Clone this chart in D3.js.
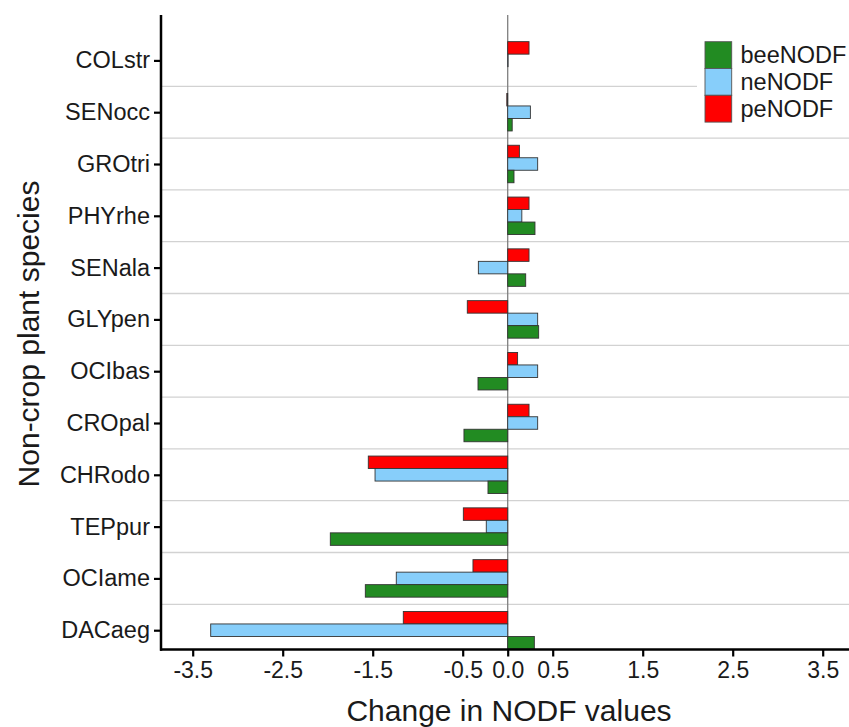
<!DOCTYPE html>
<html>
<head>
<meta charset="utf-8">
<script src="https://cdn.jsdelivr.net/npm/d3@7"></script>
<style>
  html, body { margin: 0; padding: 0; background: #fff; }
  svg { display: block; font-family: "Liberation Sans", Arial, sans-serif; }
</style>
</head>
<body>
<svg id="chart" width="849" height="727"></svg>
<script>
// ---- data ----
const categories = ["COLstr","SENocc","GROtri","PHYrhe","SENala","GLYpen","OCIbas","CROpal","CHRodo","TEPpur","OCIame","DACaeg"];
const seriesNames = ["peNODF","neNODF","beeNODF"];       // top -> bottom inside each group
const legendOrder = ["beeNODF","neNODF","peNODF"];
const peNODF  = [0.237, -0.01, 0.13, 0.237, 0.237, -0.449, 0.11, 0.237, -1.549, -0.493, -0.386, -1.16];
const neNODF  = [0.004, 0.252, 0.333, 0.157, -0.326, 0.333, 0.333, 0.333, -1.474, -0.238, -1.238, -3.30];
const beeNODF = [0.0, 0.05, 0.07, 0.303, 0.2, 0.344, -0.33, -0.486, -0.219, -1.971, -1.582, 0.296];
const xTicks = [-3.5, -2.5, -1.5, -0.5, 0.0, 0.5, 1.5, 2.5, 3.5];
const colors = {beeNODF: "#228B22", neNODF: "#87CEFA", peNODF: "#FF0000"};

const valuesBySeries = {peNODF, neNODF, beeNODF};
const rows = [];
categories.forEach((c, i) => seriesNames.forEach(s => rows.push({cat: c, series: s, value: valuesBySeries[s][i]})));

// ---- layout ----
const svg = d3.select("#chart");
const panelTop = 15, axisY = 649.5, axisX = 161, panelRight = 849;

const x = d3.scaleLinear().domain([-3.5, 3.5]).range([192.7, 822.7]);
const y0 = d3.scaleBand().domain(categories).range([34.5, 656.1]).paddingInner(0).paddingOuter(0);
const groupH = y0.bandwidth() * 0.724;
const y1 = d3.scaleBand().domain(seriesNames).range([0, groupH]);
const center = c => y0(c) + y0.bandwidth() / 2;

// grid lines between categories
svg.append("g").selectAll("line")
  .data(categories.slice(1))
  .join("line")
  .attr("x1", axisX).attr("x2", panelRight)
  .attr("y1", d => y0(d)).attr("y2", d => y0(d))
  .attr("stroke", "#d2d2d2").attr("stroke-width", 1.3);

// zero line
svg.append("line")
  .attr("x1", x(0)).attr("x2", x(0))
  .attr("y1", panelTop).attr("y2", axisY)
  .attr("stroke", "#7f7f7f").attr("stroke-width", 1.3);

// bars
svg.append("g").selectAll("rect")
  .data(rows)
  .join("rect")
  .attr("x", d => Math.min(x(0), x(d.value)))
  .attr("width", d => Math.abs(x(d.value) - x(0)))
  .attr("y", d => center(d.cat) - groupH / 2 + y1(d.series))
  .attr("height", y1.bandwidth())
  .attr("fill", d => colors[d.series])
  .attr("stroke", "#333")
  .attr("stroke-width", 0.9);

// x axis
const xAxis = d3.axisBottom(x).tickValues(xTicks).tickFormat(d3.format(".1f")).tickSize(7).tickSizeOuter(0);
const gx = svg.append("g").attr("transform", `translate(0,${axisY})`).call(xAxis);
gx.select(".domain").remove();
gx.selectAll(".tick line").attr("stroke", "#000").attr("stroke-width", 2.2);
gx.selectAll(".tick text").attr("font-size", 23).attr("fill", "#1a1a1a").attr("dy", "0.8em")
  .attr("font-family", "Liberation Sans, Arial, sans-serif")
  .text(d => d3.format(".1f")(d).replace("−", "-"));
svg.append("line").attr("x1", axisX - 1).attr("x2", panelRight).attr("y1", axisY).attr("y2", axisY)
  .attr("stroke", "#000").attr("stroke-width", 2.5);

// y axis
const yAxis = d3.axisLeft(d3.scalePoint().domain(categories).range([center(categories[0]), center(categories[categories.length-1])]))
  .tickSize(7).tickPadding(4).tickSizeOuter(0);
const gy = svg.append("g").attr("transform", `translate(${axisX},0)`).call(yAxis);
gy.select(".domain").remove();
gy.selectAll(".tick line").attr("stroke", "#000").attr("stroke-width", 2.2);
gy.selectAll(".tick text").attr("font-size", 23.5).attr("fill", "#1a1a1a")
  .attr("font-family", "Liberation Sans, Arial, sans-serif");
svg.append("line").attr("x1", axisX).attr("x2", axisX).attr("y1", panelTop).attr("y2", axisY + 1.25)
  .attr("stroke", "#000").attr("stroke-width", 2.5);

// axis titles
svg.append("text").attr("x", 509).attr("y", 720.5).attr("text-anchor", "middle")
  .attr("font-size", 30).attr("fill", "#1a1a1a").text("Change in NODF values");
svg.append("text").attr("transform", "translate(38.5,334) rotate(-90)").attr("text-anchor", "middle")
  .attr("font-size", 30).attr("fill", "#1a1a1a").text("Non-crop plant species");

// legend
const lg = svg.append("g");
lg.append("rect").attr("x", 697).attr("y", 33).attr("width", 152).attr("height", 97).attr("fill", "#fff");
const keyH = 26.8;
legendOrder.forEach((s, i) => {
  const ky = 41.7 + i * keyH;
  lg.append("rect").attr("x", 705).attr("y", ky).attr("width", 26.7).attr("height", keyH)
    .attr("fill", colors[s]).attr("stroke", "#555").attr("stroke-width", 0.9);
  lg.append("text").attr("x", 740.5).attr("y", ky + keyH / 2).attr("dy", "0.35em")
    .attr("font-size", 23.5).attr("fill", "#1a1a1a").text(s);
});
</script>
</body>
</html>
